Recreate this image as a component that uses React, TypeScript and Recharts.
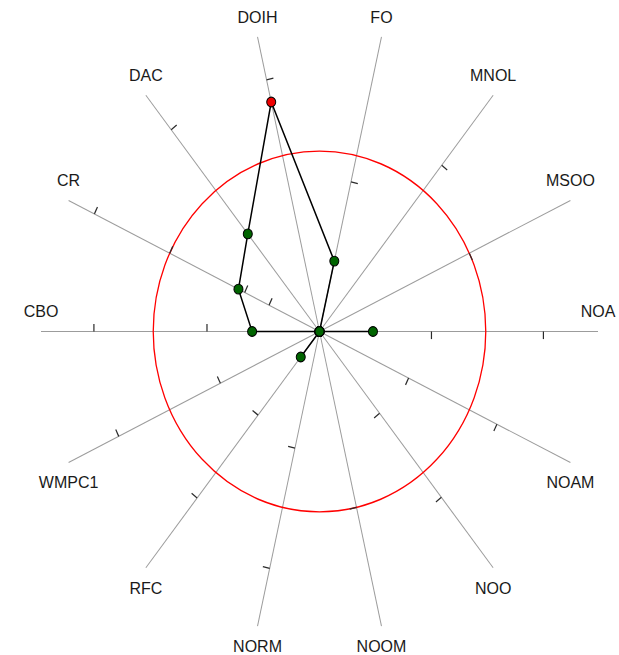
import React from 'react';
import { RadarChart, Radar, PolarGrid, PolarAngleAxis, PolarRadiusAxis } from 'recharts';

// Axes, counter-clockwise starting at the right (0 degrees)
const metrics = ['NOA', 'MSOO', 'MNOL', 'FO', 'DOIH', 'DAC', 'CR', 'CBO', 'WMPC1', 'RFC', 'NORM', 'NOOM', 'NOO', 'NOAM'];
// Measured value on each axis, as % of the axis length
const values = [19.2, 0, 0, 23.9, 77.9, 41.3, 32.3, 24.2, 0, 10.8, 0, 0, 0, 0];
// Threshold (red circle), as % of the axis length
const threshold = 59.7;
// Scale tick marks on each axis, as % of the axis length
const axisTicks: number[][] = [
  [40.2, 80.4],        // NOA
  [59.7],              // MSOO
  [70.4],              // MNOL
  [50.8],              // FO
  [85.4],              // DOIH
  [85.4],              // DAC
  [20.1, 29.8, 59.7, 89.7], // CR
  [40.4, 81.0],        // CBO
  [39.5, 80.0],        // WMPC1
  [35.4, 70.5],        // RFC
  [39.6, 80.4],        // NORM
  [59.7],              // NOOM
  [34.6, 70.2],        // NOO
  [35.5, 70.7],        // NOAM
];
const AXIS_MAX = 100;

const W = 619;
const H = 655;
const CX = 319.5;
const CY = 331.5;
const R = 278.5;
const N = metrics.length;
const STEP = 360 / N;
const SY = 1.085; // vertical stretch of the plot (non-square aspect)
const LABEL_GAP = 20;
const TICK_LEN = 7;
const FONT = "'Liberation Sans', Arial, Helvetica, sans-serif";

const data = metrics.map((m, i) => ({
  metric: m,
  value: values[i],
  axisEnd: AXIS_MAX,
  t0: axisTicks[i][0] ?? null,
  t1: axisTicks[i][1] ?? null,
  t2: axisTicks[i][2] ?? null,
  t3: axisTicks[i][3] ?? null,
}));

const valOf = (p: any) => {
  if (p == null) return null;
  const row = p.payload;
  if (row && p.dataKey != null && row[p.dataKey] !== undefined) return row[p.dataKey];
  return p.value ?? null;
};

const AxisLabel = (p: any) => {
  const v = valOf(p);
  if (v == null || !isFinite(p.cx) || !isFinite(p.cy)) return <g key={p.key} />;
  const below = p.cy > CY + 1;
  const off = ((below ? 1 : -1) * LABEL_GAP) / SY;
  return (
    <g key={p.key} transform={`translate(${p.cx},${p.cy + off}) scale(1,${1 / SY})`}>
      <text x={0} y={0} dy="0.36em" textAnchor="middle" fontSize={16} fontFamily={FONT} fill="#1a1a1a">
        {p.payload.metric}
      </text>
    </g>
  );
};

const TickMark = (p: any) => {
  const v = valOf(p);
  if (v == null || !isFinite(p.cx) || !isFinite(p.cy)) return <g key={p.key} />;
  const a = Math.atan2(CY - p.cy, p.cx - CX);
  return (
    <line
      key={p.key}
      x1={p.cx}
      y1={p.cy}
      x2={p.cx + TICK_LEN * Math.sin(a)}
      y2={p.cy + TICK_LEN * Math.cos(a)}
      stroke="#2a2a2a"
      strokeWidth={1.2}
    />
  );
};

const DataDot = (p: any) => {
  const v = valOf(p);
  if (v == null || !isFinite(p.cx) || !isFinite(p.cy)) return <g key={p.key} />;
  const over = v > threshold;
  return (
    <circle key={p.key} cx={p.cx} cy={p.cy} r={4.5} fill={over ? '#ee0000' : '#006400'} stroke="#000" strokeWidth={1} />
  );
};

export default function App() {
  return (
    <div style={{ position: 'absolute', left: 0, top: 0, width: W, height: H, overflow: 'hidden', background: '#fff' }}>
      <div style={{ width: W, height: H, transform: `scaleY(${SY})`, transformOrigin: `${CX}px ${CY}px` }}>
        <RadarChart
          width={W}
          height={H}
          cx={CX}
          cy={CY}
          outerRadius={R}
          startAngle={-STEP}
          endAngle={360 - STEP}
          data={data}
          margin={{ top: 0, right: 0, bottom: 0, left: 0 }}
        >
          <PolarGrid gridType="circle" polarRadius={[]} stroke="#9c9c9c" strokeWidth={1} />
          <PolarGrid gridType="circle" radialLines={false} polarRadius={[(threshold / AXIS_MAX) * R]} stroke="#ff0000" strokeWidth={1.3} />
          <PolarAngleAxis dataKey="metric" tick={false} tickLine={false} axisLine={false} />
          <PolarRadiusAxis type="number" domain={[0, AXIS_MAX]} tick={false} axisLine={false} />
          {['t0', 't1', 't2', 't3'].map((k) => (
            <Radar key={k} dataKey={k} stroke="none" fill="none" fillOpacity={0} dot={TickMark} isAnimationActive={false} legendType="none" />
          ))}
          <Radar dataKey="axisEnd" stroke="none" fill="none" fillOpacity={0} dot={AxisLabel} isAnimationActive={false} legendType="none" />
          <Radar dataKey="value" stroke="#000" strokeWidth={1.5} fill="none" fillOpacity={0} dot={DataDot} isAnimationActive={false} />
        </RadarChart>
      </div>
    </div>
  );
}
